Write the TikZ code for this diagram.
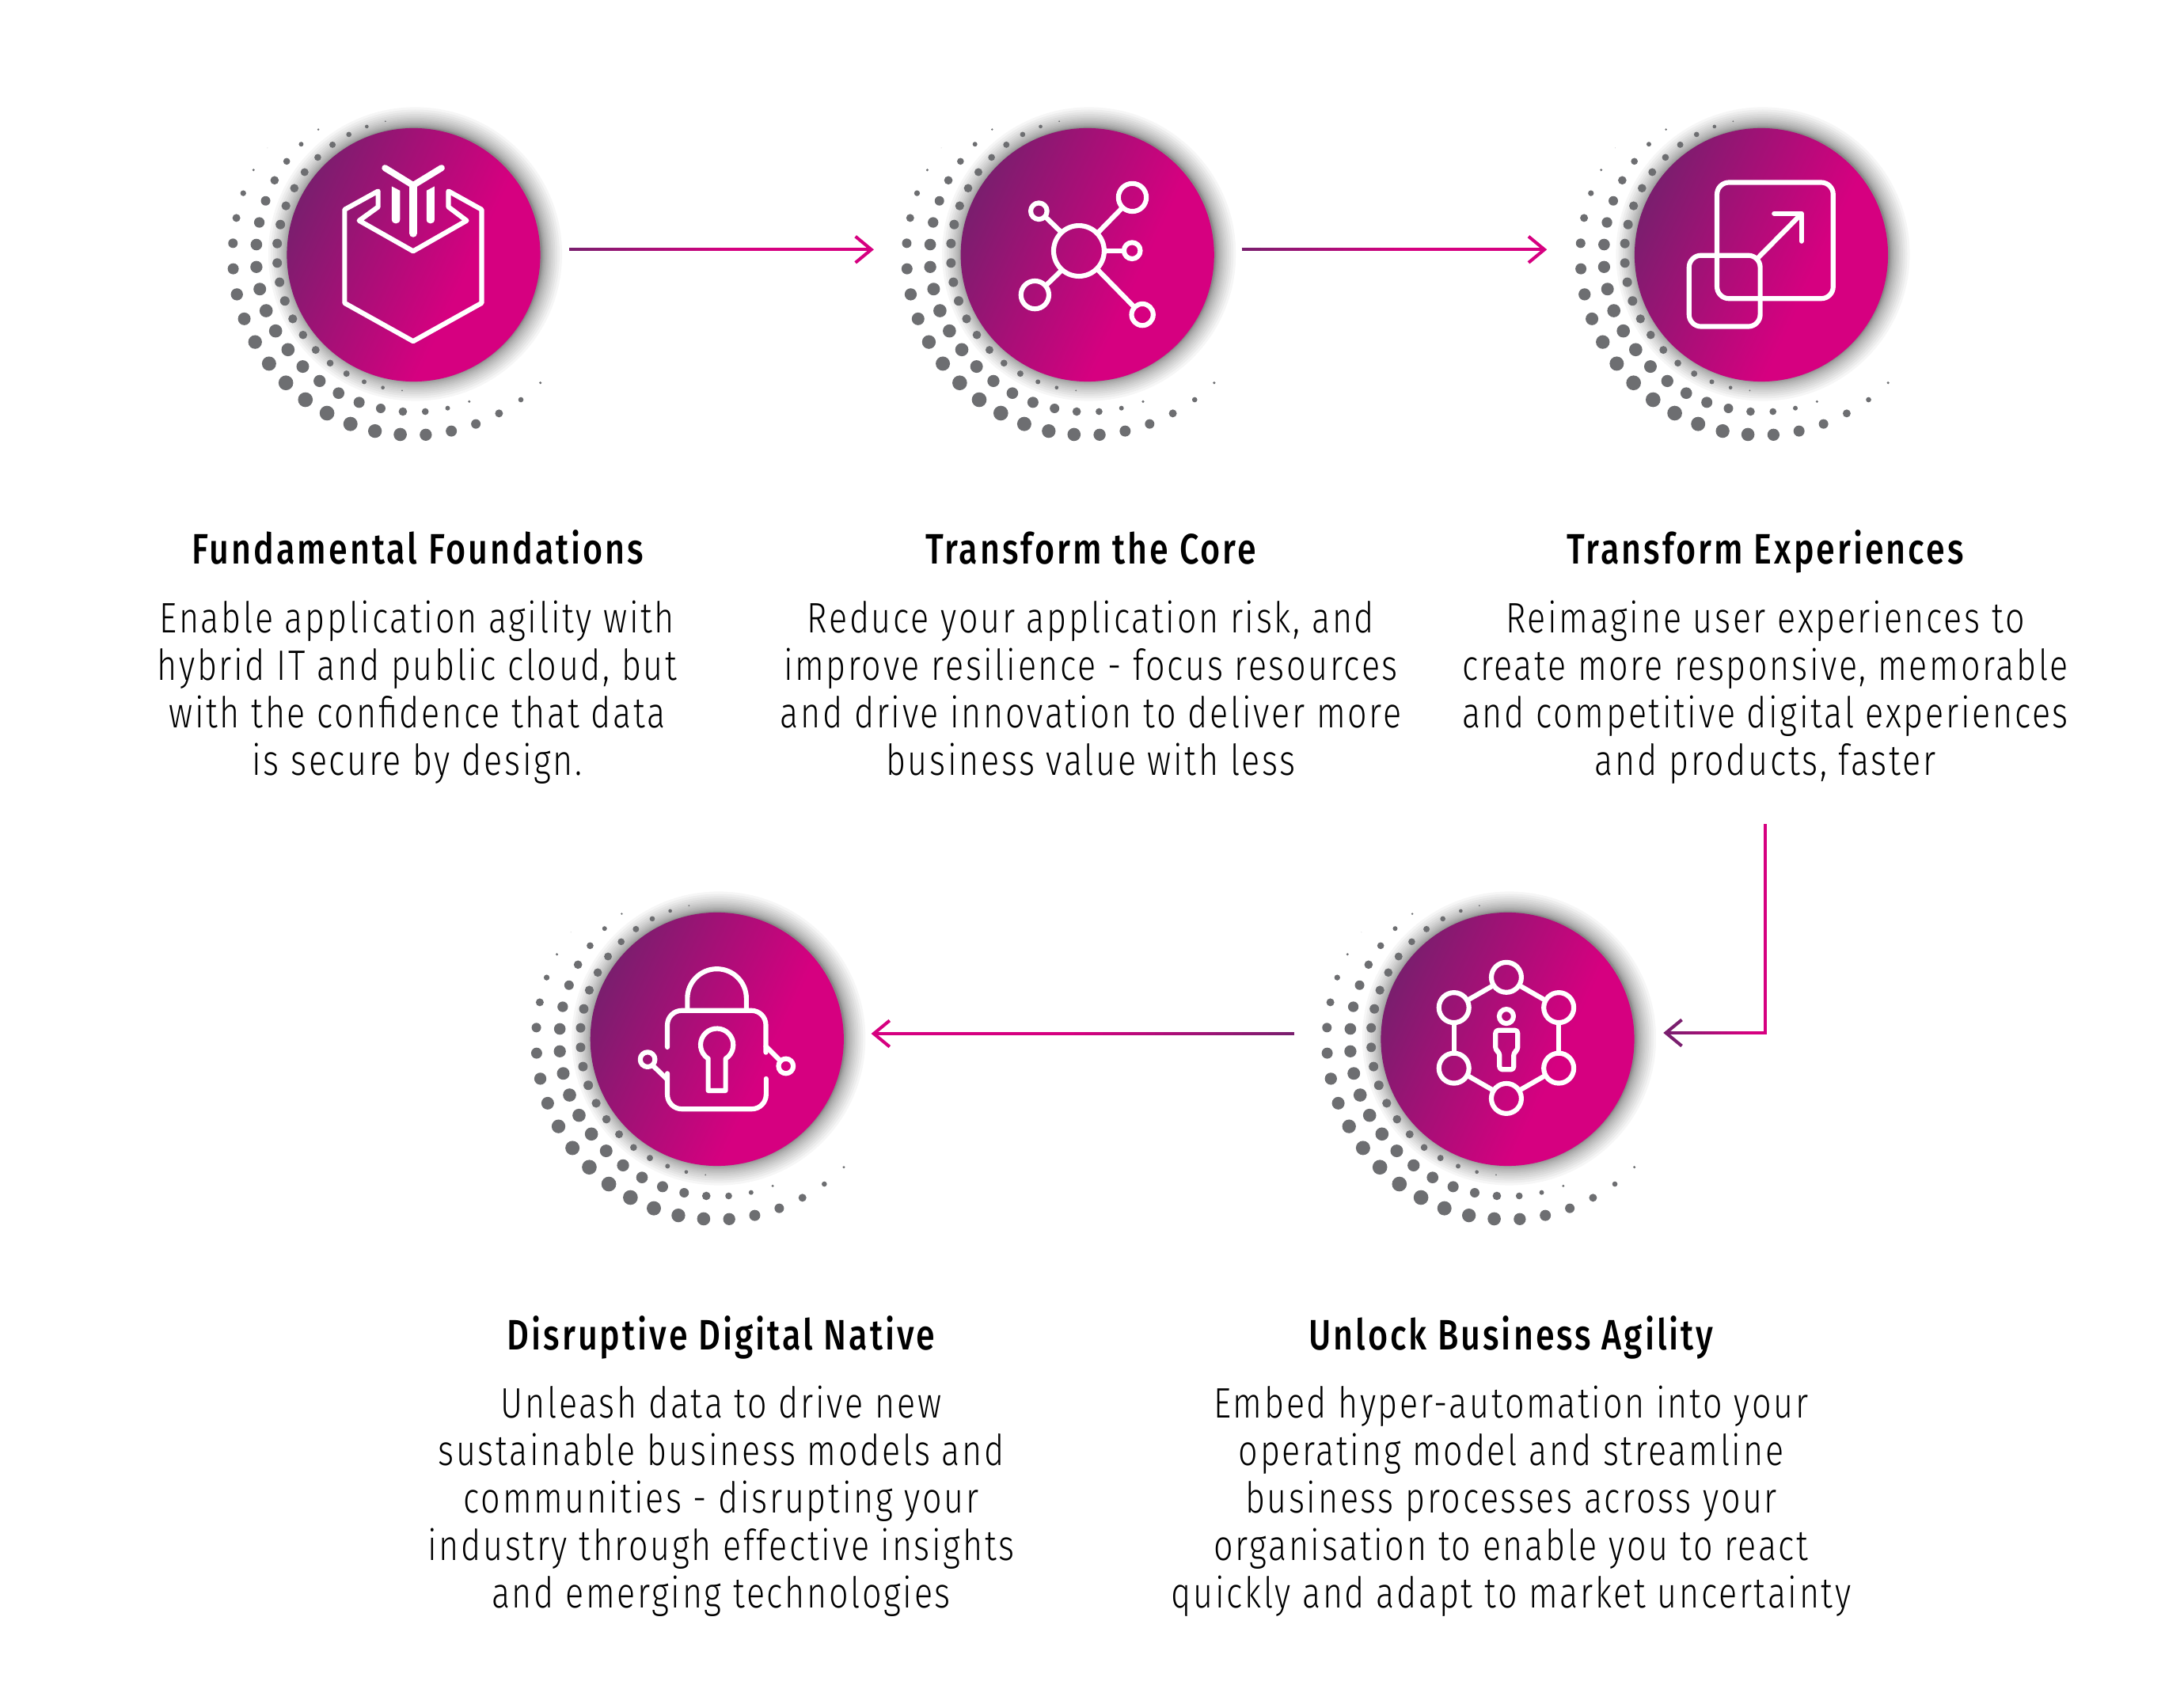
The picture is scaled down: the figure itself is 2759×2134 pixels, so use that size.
\documentclass[tikz,border=0pt]{standalone}
\usepackage{fontspec}
\usepackage{tikz}
\usetikzlibrary{arrows.meta, calc}
\newfontfamily\bodyfont[UprightFont=* Light, FakeStretch=0.8, LetterSpace=5]{Fira Sans}
\newfontfamily\headfont[UprightFont=* Medium, FakeStretch=0.8, LetterSpace=5.5]{Fira Sans}
\definecolor{badgedark}{HTML}{7A1E6E}
\definecolor{badgepink}{HTML}{D60080}
\definecolor{dotgray}{HTML}{6D6E71}
\pgfdeclarehorizontalshading{badgefade}{100bp}{color(0bp)=(badgedark); color(25bp)=(badgedark); color(61bp)=(badgepink); color(100bp)=(badgepink)}
\tikzstyle{badge} = [circle, minimum size=3.2cm, inner sep=0pt, shading=badgefade, shading angle=-25]
\tikzstyle{zoomed} = [x=0.003333cm, y=-0.003333cm]
\tikzstyle{icon} = [white, line width=1.75pt, line cap=round, line join=round]
\tikzstyle{flow} = [badgepink, line width=1.15pt, -{Straight Barb[length=5.7pt, width=9.4pt]}]
\tikzstyle{flowpart} = [line width=1.15pt]
\tikzstyle{head} = [inner sep=0pt, anchor=base, font=\headfont\fontsize{15.3}{17.07}\selectfont]
\tikzstyle{body} = [inner sep=0pt, anchor=north, align=center, font=\bodyfont\fontsize{15.3}{17.07}\selectfont]

\begin{document}
\begin{tikzpicture}[x=0.01cm, y=-0.01cm]
\useasboundingbox (0, 0) rectangle (2759, 2134);
\fill [white] (0, 0) rectangle (2759, 2134);

% Badges with shadow and dot swirl
\foreach \cx/\cy/\nm in {522.5/322/one, 1373.7/322/two, 2225/322/three, 1904.5/1313/four, 905.8/1313/five} {
  \foreach \k in {1, ..., 16}
    \fill [black, opacity=0.035] ({\cx + 2}, {\cy - 1}) circle ({160 + 0.1*\k*\k});
  \begin{scope}[shift={({\cx - 262.5}, {\cy - 191.7})}, zoomed]
    \foreach \x/\y/\r in {682/69/3, 611/89/7, 543/119/10, 427/100/4, 481/158/12, 362/156/9, 234/170/1,
      425/206/13, 307/221/13, 375/262/15, 181/254/5, 261/293/16, 336/323/16, 142/342/11, 227/371/18,
      304/390/17, 116/436/15, 203/453/20, 283/461/18, 103/532/18, 192/537/22, 271/533/18, 104/629/21,
      192/622/23, 271/607/18, 118/726/23, 205/706/24, 280/680/18, 146/819/24, 229/788/25, 300/751/18,
      187/907/26, 265/865/25, 330/819/17, 240/989/27, 312/936/25, 369/880/16, 304/1062/28, 368/1000/24,
      417/937/15, 378/1126/28, 432/1055/23, 472/987/13, 460/1177/28, 504/1101/22, 534/1027/12, 601/1058/9,
      549/1218/27, 582/1136/21, 672/1080/7, 745/1091/3, 642/1245/26, 664/1159/18, 738/1258/25, 748/1171/16,
      835/1259/23, 833/1171/13, 932/1245/21, 918/1158/9, 1025/1218/18, 1000/1133/5, 1113/1178/15,
      1196/1126/10, 1270/1062/5}
      \fill [dotgray] (\x, \y) circle (\r);
  \end{scope}
  \node [badge] (badge\nm) at (\cx, \cy) {};
}

% Box icon
\begin{scope}[shift={(260, 130)}, zoomed]
\draw [icon] (654, 335) -- (527, 405) -- (527, 760) -- (787, 905) -- (1047, 760) -- (1047, 405) -- (921, 335) -- (921, 395) -- (990, 447) -- (787, 563) -- (582, 447) -- (654, 395) -- cycle;
\draw [icon, line width=2.3pt] (680, 247) -- (787, 313) -- (895, 247);
\draw [icon, line width=2.85pt] (787, 313) -- (787, 495);
\fill [white] (706, 317) -- (737, 333) -- (737, 443) .. controls (737, 463) and (706, 463) .. (706, 443) -- cycle;
\fill [white] (838, 333) -- (868, 317) -- (868, 443) .. controls (868, 463) and (838, 463) .. (838, 443) -- cycle;
\end{scope}

% Hub icon
\begin{scope}[shift={(1120, 130)}, zoomed]
\draw [icon] (730, 562) circle (96);
\draw [icon] (578, 411) circle (31);
\draw [icon] (933, 359) circle (53);
\draw [icon] (932, 561) circle (31);
\draw [icon] (563, 729) circle (53);
\draw [icon] (971, 804) circle (41);
\draw [icon] (662, 490) -- (606, 436);
\draw [icon] (803, 492) -- (893, 400);
\draw [icon] (826, 562) -- (901, 562);
\draw [icon] (660, 640) -- (605, 693);
\draw [icon] (803, 635) -- (940, 775);
\end{scope}

% Resize icon
\begin{scope}[shift={(1980, 130)}, zoomed]
\draw [icon, rounded corners=4.3pt] (568, 302) rectangle (1009, 743);
\draw [icon, rounded corners=4.3pt] (462, 579) rectangle (732, 849);
\draw [icon] (722, 590) -- (882, 428);
\draw [icon] (785, 420) -- (889, 420) -- (889, 525);
\end{scope}

% Network icon
\begin{scope}[shift={(1660, 1130)}, zoomed]
\foreach \x/\y in {730/315, 929/430, 929/660, 730/775, 531/660, 531/430}
  \draw [icon] (\x, \y) circle (57);
\draw [icon] (586, 400) -- (675, 349);
\draw [icon] (785, 349) -- (874, 400);
\draw [icon] (929, 487) -- (929, 603);
\draw [icon] (874, 690) -- (785, 741);
\draw [icon] (675, 741) -- (586, 690);
\draw [icon] (531, 487) -- (531, 603);
\draw [icon] (730, 463) circle (27);
\draw [icon, rounded corners=1pt] (689, 516) -- (773, 516) -- (773, 592) -- (758, 600) -- (758, 665) -- (704, 665) -- (704, 600) -- (689, 592) -- cycle;
\end{scope}

% Lock icon
\begin{scope}[shift={(660, 1130)}, zoomed]
\draw [icon] (626, 435) -- (626, 395) arc (180:360:112) -- (850, 435);
\draw [icon, rounded corners=5.2pt] (550, 580) -- (550, 441) -- (924, 441) -- (924, 600);
\draw [icon] (924, 577) -- (980, 633);
\draw [icon, rounded corners=5.2pt] (925, 700) -- (925, 815) -- (550, 815) -- (550, 680);
\draw [icon] (550, 703) -- (495, 650);
\draw [icon] (475, 627) circle (28);
\draw [icon] (1000, 652) circle (28);
\draw [icon] (705, 624) -- (705, 745) -- (771, 745) -- (771, 624) arc (58:-238:62) -- cycle;
\end{scope}

% Titles
\node [head] (titleone) at (528, 713) {Fundamental Foundations};
\node [head] (titletwo) at (1378, 713) {Transform the Core};
\node [head] (titlethree) at (2230, 713) {Transform Experiences};
\node [head] (titlefour) at (1909, 1705) {Unlock Business Agility};
\node [head] (titlefive) at (911, 1705) {Disruptive Digital Native};

% Descriptions
\node [body] (textone) at (527, 758) {Enable application agility with\\hybrid IT and public cloud, but\\with the confidence that data\\is secure by design.};
\node [body] (texttwo) at (1378, 758) {Reduce your application risk, and\\improve resilience - focus resources\\and drive innovation to deliver more\\business value with less};
\node [body] (textthree) at (2230, 758) {Reimagine user experiences to\\create more responsive, memorable\\and competitive digital experiences\\and products, faster};
\node [body] (textfour) at (1909, 1750) {Embed hyper-automation into your\\operating model and streamline\\business processes across your\\organisation to enable you to react\\quickly and adapt to market uncertainty};
\node [body] (textfive) at (911, 1750) {Unleash data to drive new\\sustainable business models and\\communities - disrupting your\\industry through effective insights\\and emerging technologies};

% Arrows
\coordinate (flowa) at ($(badgeone.east) + (36, -6.7)$);
\coordinate (flowb) at ($(badgetwo.west) + (-109, -6.7)$);
\coordinate (flowc) at ($(badgetwo.east) + (34, -6.7)$);
\coordinate (flowd) at ($(badgethree.west) + (-110, -6.7)$);
\coordinate (flowe) at ($(textthree.south) + (0, 50)$);
\coordinate (flowf) at ($(badgefour.east) + (36, -8)$);
\coordinate (flowg) at ($(badgefour.west) + (-109, -7)$);
\coordinate (flowh) at ($(badgefive.east) + (34, -7)$);
\draw [flow] (flowa) -- (flowb);
\draw [flow] (flowc) -- (flowd);
\draw [flow, -{Straight Barb[length=5.7pt, width=9.4pt, color=badgedark]}] (flowe) |- (flowf);
\draw [flow] (flowg) -- (flowh);

% Colour fade on the arrow tails
\foreach \p [evaluate=\p as \mix using \p*4] in {0, ..., 24} {
  \draw [flowpart, badgepink!\mix!badgedark] ($(flowa) + ({\p*8}, 0)$) -- ($(flowa) + ({(\p+1)*8.1}, 0)$);
  \draw [flowpart, badgepink!\mix!badgedark] ($(flowc) + ({\p*8}, 0)$) -- ($(flowc) + ({(\p+1)*8.1}, 0)$);
  \draw [flowpart, badgepink!\mix!badgedark] ($(flowg) + ({-\p*11}, 0)$) -- ($(flowg) + ({-(\p+1)*11.1}, 0)$);
  \draw [flowpart, badgepink!\mix!badgedark] ($(flowf) + ({5 + \p*4}, 0)$) -- ($(flowf) + ({5 + (\p+1)*4.1}, 0)$);
}
\end{tikzpicture}
\end{document}
